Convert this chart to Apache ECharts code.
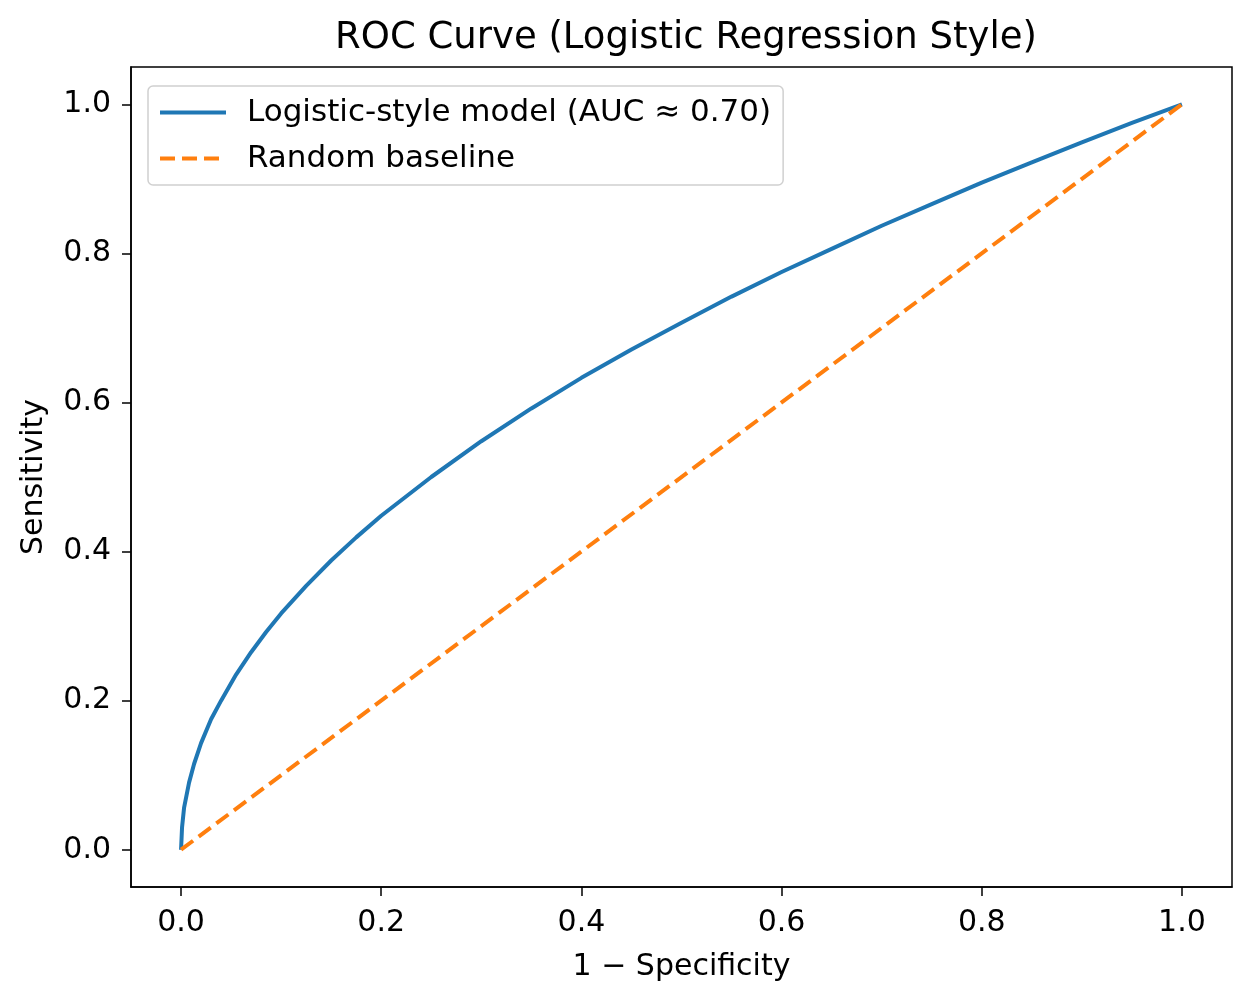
<!DOCTYPE html>
<html>
<head>
<meta charset="utf-8">
<script src="https://cdn.jsdelivr.net/npm/echarts@6/dist/echarts.min.js"></script>
<style>
html,body{margin:0;padding:0;background:#fff;}
#chart{width:1251px;height:1002px;}
</style>
</head>
<body>
<div id="chart"></div>
<script>
// Values
const modelFpr = [0, 0.001, 0.003, 0.008, 0.013, 0.02, 0.03, 0.04, 0.055, 0.07, 0.085, 0.1, 0.125, 0.15, 0.175, 0.2, 0.25, 0.3, 0.35, 0.4, 0.45, 0.5, 0.55, 0.6, 0.65, 0.7, 0.75, 0.8, 0.85, 0.9, 0.95, 1.0];
const modelTpr = [0, 0.03, 0.056, 0.09, 0.115, 0.143, 0.175, 0.2, 0.235, 0.265, 0.292, 0.317, 0.354, 0.388, 0.419, 0.448, 0.5, 0.548, 0.592, 0.633, 0.671, 0.707, 0.742, 0.775, 0.806, 0.837, 0.866, 0.895, 0.922, 0.949, 0.975, 1.0];
const baselineFpr = [0, 1];
const baselineTpr = [0, 1];
const tickValues = [0, 0.2, 0.4, 0.6, 0.8, 1.0];
const seriesNames = ['Logistic-style model (AUC \u2248 0.70)', 'Random baseline'];

const modelData = modelFpr.map((x, i) => [x, modelTpr[i]]);
const baselineData = baselineFpr.map((x, i) => [x, baselineTpr[i]]);

const font = 'DejaVu Sans';
const chart = echarts.init(document.getElementById('chart'));
chart.setOption({
  animation: false,
  backgroundColor: '#fff',
  title: {
    text: 'ROC Curve (Logistic Regression Style)',
    left: 681, top: 15, textAlign: 'center',
    textStyle: {fontFamily: font, fontSize: 37, fontWeight: 'normal', color: '#000'}
  },
  grid: {
    left: 131, top: 67, width: 1101, height: 820,
    show: true, borderColor: '#000', borderWidth: 1.5, backgroundColor: 'transparent'
  },
  legend: {
    orient: 'vertical', left: 148, top: 86,
    padding: [11, 12, 11, 10],
    itemGap: 15, itemWidth: 66, itemHeight: 14,
    backgroundColor: '#fff', borderColor: '#d0d0d0', borderWidth: 1.5, borderRadius: 5,
    itemStyle: {opacity: 0},
    lineStyle: {width: 4},
    textStyle: {fontFamily: font, fontSize: 31, color: '#000', padding: [0, 0, 0, 16]},
    data: seriesNames
  },
  xAxis: {
    type: 'value', min: -0.05, max: 1.05,
    name: '1 \u2212 Specificity', nameLocation: 'middle', nameGap: 65,
    nameTextStyle: {fontFamily: font, fontSize: 30, color: '#000'},
    axisLine: {show: true, onZero: false, lineStyle: {color: '#000', width: 1.5}},
    axisTick: {show: true, customValues: tickValues, length: 9, lineStyle: {color: '#000', width: 1.5}},
    axisLabel: {customValues: tickValues, margin: 21, fontFamily: font, fontSize: 30, color: '#000',
      formatter: v => v.toFixed(1)},
    splitLine: {show: false}
  },
  yAxis: {
    type: 'value', min: -0.05, max: 1.05,
    name: 'Sensitivity', nameLocation: 'middle', nameGap: 82,
    nameTextStyle: {fontFamily: font, fontSize: 30, color: '#000'},
    axisLine: {show: true, onZero: false, lineStyle: {color: '#000', width: 1.5}},
    axisTick: {show: true, customValues: tickValues, length: 9, lineStyle: {color: '#000', width: 1.5}},
    axisLabel: {customValues: tickValues, margin: 20, fontFamily: font, fontSize: 30, color: '#000',
      formatter: v => v.toFixed(1)},
    splitLine: {show: false}
  },
  series: [
    {
      name: seriesNames[0], type: 'line', data: modelData,
      symbol: 'none', smooth: false,
      lineStyle: {color: '#1f77b4', width: 4},
      itemStyle: {color: '#1f77b4'}
    },
    {
      name: seriesNames[1], type: 'line', data: baselineData,
      symbol: 'none',
      lineStyle: {color: '#ff7f0e', width: 4, type: [15, 7]},
      itemStyle: {color: '#ff7f0e'}
    }
  ]
});
</script>
</body>
</html>
